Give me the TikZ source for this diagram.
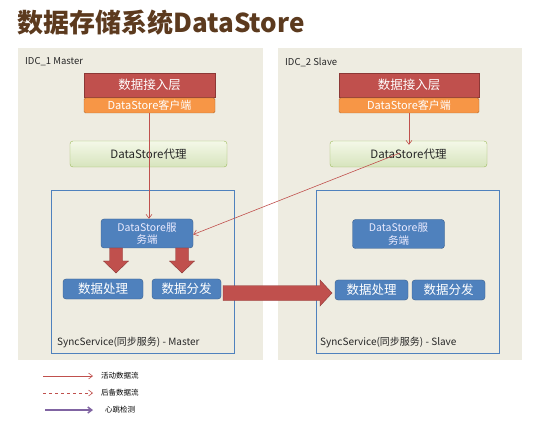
\documentclass[tikz,border=0pt]{standalone}
\usepackage{fontspec}
\setmainfont{Noto Sans CJK SC}
\usetikzlibrary{arrows.meta}
\definecolor{panelbg}{HTML}{EEECE1}
\definecolor{titlec}{HTML}{5C3A1E}
\definecolor{redbox}{HTML}{C0504D}
\definecolor{redbd}{HTML}{8C3836}
\definecolor{orangebox}{HTML}{F79646}
\definecolor{orangebd}{HTML}{B66D31}
\definecolor{greenA}{HTML}{F4F8E8}
\definecolor{greenB}{HTML}{D7E4BD}
\definecolor{greenbd}{HTML}{9BBB59}
\definecolor{bluebox}{HTML}{4F81BD}
\definecolor{bluebd}{HTML}{385D8A}
\definecolor{lineRed}{HTML}{C0504D}
\definecolor{purp}{HTML}{8064A2}
\tikzset{
  panel/.style={fill=panelbg, draw=none},
  layerbox/.style={fill=redbox, draw=redbd, minimum width=131pt, minimum height=24pt, inner sep=0pt, text=white, font=\fontsize{12.5}{14}\selectfont},
  clientbox/.style={fill=orangebox, draw=orangebd, rounded corners=1.5pt, minimum width=131pt, minimum height=15pt, inner sep=0pt, text=white, font=\fontsize{11}{12}\selectfont},
  proxybox/.style={top color=greenA, bottom color=greenB, draw=greenbd, rounded corners=3pt, minimum width=157pt, minimum height=26pt, inner sep=0pt, text=black!85, font=\fontsize{11.5}{13}\selectfont},
  syncbox/.style={draw=bluebox, line width=0.8pt, minimum width=183pt, minimum height=163pt, inner sep=0pt},
  servbox/.style={fill=bluebox, draw=bluebd, rounded corners=3pt, minimum width=92pt, minimum height=29pt, inner sep=0pt, text=white!92!blue, align=center, font=\fontsize{10.5}{12.5}\selectfont},
  workbox/.style={fill=bluebox, draw=bluebd, rounded corners=3pt, minimum height=20pt, inner sep=0pt, text=white, font=\fontsize{12.5}{14}\selectfont},
  flow/.style={draw=lineRed, line width=0.6pt, -{Straight Barb[length=4pt,width=6pt]}},
  bigarrow/.style={fill=redbox, draw=redbd, line width=0.4pt},
  lbl/.style={inner sep=0pt, anchor=west},
}
\begin{document}
\begin{tikzpicture}[x=1pt,y=-1pt]
\useasboundingbox (0,0) rectangle (541,422);
\fill[white] (0,0) rectangle (541,422);
% title
\node[lbl, text=titlec, font=\fontsize{26}{29}\selectfont\bfseries] (title) at (17,23) {数据存储系统DataStore};
% panels
\fill[panel] (18,48) rectangle (263,360);
\fill[panel] (278,48) rectangle (522,360);
\node[lbl, font=\fontsize{9.5}{11}\selectfont, text=black!85] (idc1) at (25,62) {IDC\_1 Master};
\node[lbl, font=\fontsize{9.5}{11}\selectfont, text=black!85] (idc2) at (285,62) {IDC\_2 Slave};
% left column
\node[layerbox] (L1) at (149.5,85) {数据接入层};
\node[clientbox] (C1) at (149.5,105.5) {DataStore客户端};
\node[proxybox] (P1) at (148.5,154) {DataStore代理};
\node[syncbox] (S1) at (142.5,271.5) {};
\node[lbl, font=\fontsize{10}{12}\selectfont, text=black!85] (S1t) at (57,342) {SyncService(同步服务) - Master};
\node[servbox] (V1) at (147,233.5) {DataStore服\\务端};
\node[workbox, minimum width=80pt] (W1a) at (103,289) {数据处理};
\node[workbox, minimum width=69pt] (W1b) at (186.5,289) {数据分发};
% right column
\node[layerbox, minimum width=140pt] (L2) at (409,85) {数据接入层};
\node[clientbox, minimum width=140pt] (C2) at (409,105.5) {DataStore客户端};
\node[proxybox] (P2) at (408.5,154) {DataStore代理};
\node[syncbox] (S2) at (407.5,271.5) {};
\node[lbl, font=\fontsize{10}{12}\selectfont, text=black!85] (S2t) at (320,342) {SyncService(同步服务) - Slave};
\node[servbox] (V2) at (398.5,234) {DataStore服\\务端};
\node[workbox, minimum width=73pt] (W2a) at (371.5,290) {数据处理};
\node[workbox, minimum width=73pt] (W2b) at (448.5,290) {数据分发};
% thin flows
\draw[flow] (C1.south -| 149,0) -- (V1.north -| 149,0);
\draw[flow] (C2.south -| 409,0) -- ([yshift=-4pt]P2.north -| 409,0);
\coordinate (pc) at (400,153);
\draw[flow] (pc) -- ([yshift=-1pt]V1.east);
% big down arrows
\foreach \xx in {116,182}{
  \fill[bigarrow] (\xx-6.5,248) -- (\xx+6.5,248) -- (\xx+6.5,261) -- (\xx+12.5,261) -- (\xx,273) -- (\xx-12.5,261) -- (\xx-6.5,261) -- cycle;
}
% big horizontal arrow from W1b to W2a
\coordinate (hs) at (223,293);
\coordinate (he) at (332,293);
\fill[bigarrow] (hs) ++(0,-7.5) -- (320,285.5) -- (320,280) -- (he) -- (320,306) -- (320,300.5) -- (223,300.5) -- cycle;
% legend
\coordinate (a1) at (43,376); \coordinate (a1e) at (93,376);
\coordinate (a2) at (43,393); \coordinate (a2e) at (93,393);
\coordinate (a3) at (45,410); \coordinate (a3e) at (93,410);
\draw[flow] (a1) -- (a1e);
\draw[flow, dashed] (a2) -- (a2e);
\draw[draw=purp, line width=1.5pt, -{Straight Barb[length=4pt,width=6pt]}] (a3) -- (a3e);
\node[lbl, font=\fontsize{7.5}{9}\selectfont] (t1) at (101,376) {活动数据流};
\node[lbl, font=\fontsize{7.5}{9}\selectfont] (t2) at (101,393) {后备数据流};
\node[lbl, font=\fontsize{7.5}{9}\selectfont] (t3) at (105,410) {心跳检测};
\end{tikzpicture}
\end{document}
